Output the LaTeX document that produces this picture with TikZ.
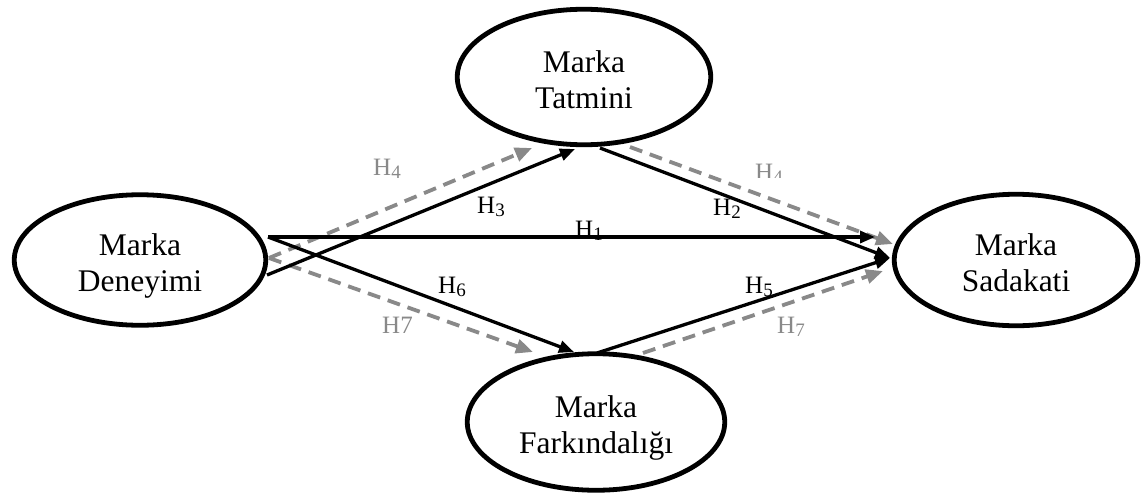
\documentclass[tikz,border=0pt]{standalone}
\usepackage{fontspec}
\setmainfont{Liberation Serif}
\usetikzlibrary{shapes.geometric,arrows.meta,calc}
\definecolor{hgray}{RGB}{137,137,137}
% subscript digit of a hypothesis label
\newcommand\hsub[1]{\raisebox{-3pt}{\fontsize{19}{19}\selectfont #1}}
% invisible rules that fix where the two text lines sit inside an ellipse
\newcommand\linetop{\rule{0pt}{34pt}}
\newcommand\linebot{\rule[-8pt]{0pt}{8pt}}

\begin{document}
\begin{tikzpicture}[x=1pt,y=-1pt,
  construct/.style={ellipse, draw, line width=4.8pt, inner sep=0pt, outer sep=0pt,
    align=center, font=\fontsize{31.5}{36}\selectfont},
  effect/.style={line width=3.3pt, -{Triangle[length=15pt,width=12pt]}},
  mediated/.style={hgray, line width=3.8pt, dash pattern=on 13pt off 8pt,
    -{Triangle[length=17pt,width=14pt]}},
  hlab/.style={inner sep=0pt, anchor=base west, font=\fontsize{25}{25}\selectfont},
  glab/.style={hlab, text=hgray}
]
\useasboundingbox (0,0) rectangle (1141,498);

% constructs
\node[construct, minimum width=251.5pt, minimum height=130.5pt] (den) at (140,260) {\linetop Marka\\Deneyimi\linebot};
\node[construct, minimum width=253.5pt, minimum height=135.5pt] (tat) at (584,77) {\linetop Marka\\Tatmini\linebot};
\node[construct, minimum width=257.5pt, minimum height=136.5pt] (far) at (596,422) {\linetop Marka\\Farkındalığı\linebot};
\node[construct, minimum width=243.5pt, minimum height=131.5pt] (sad) at (1016,260) {\linetop Marka\\Sadakati\linebot};

% indirect (mediated) paths
\draw[mediated] ($(den.center)+(129,-2)$) -- ($(tat.center)+(-52,71)$);
\draw[mediated] ($(den.center)+(129,-2)$) -- ($(far.center)+(-63,-70)$);
\draw[mediated] ($(tat.center)+(46,70)$) -- ($(sad.center)+(-123,-16)$);
\draw[mediated] ($(far.center)+(47,-69)$) -- ($(sad.center)+(-133,11)$);

% direct effects
\draw[effect] ($(den.center)+(128,-23)$) -- ($(sad.center)+(-141,-23)$);
\draw[effect] ($(den.center)+(127,15)$) -- ($(tat.center)+(-9,72)$);
\draw[effect] ($(den.center)+(128,-23)$) -- ($(far.center)+(-22,-70)$);
\draw[effect] ($(tat.center)+(16,71)$) -- ($(sad.center)+(-126,-2)$);
\draw[effect] ($(far.center)+(1,-69)$) -- ($(sad.center)+(-126,-2)$);

% hypothesis labels
\node[glab] (h4) at (373,175) {H\hsub{4}};
\node[hlab] (h3) at (477,213) {H\hsub{3}};
\node[hlab] (h1) at (575,237) {H\hsub{1}};
\node[hlab] (h6) at (438,293) {H\hsub{6}};
\node[glab] (h7a) at (382,333) {H7};
\node[hlab] (h2) at (713,215) {H\hsub{2}};
\node[hlab] (h5) at (745,293) {H\hsub{5}};
\node[glab] (h7b) at (777,333) {H\hsub{7}};
\begin{scope}
  \clip (740,150) rectangle (800,177);
  \node[glab] (h4b) at (755,180) {H\hsub{4}};
\end{scope}
\end{tikzpicture}
\end{document}
